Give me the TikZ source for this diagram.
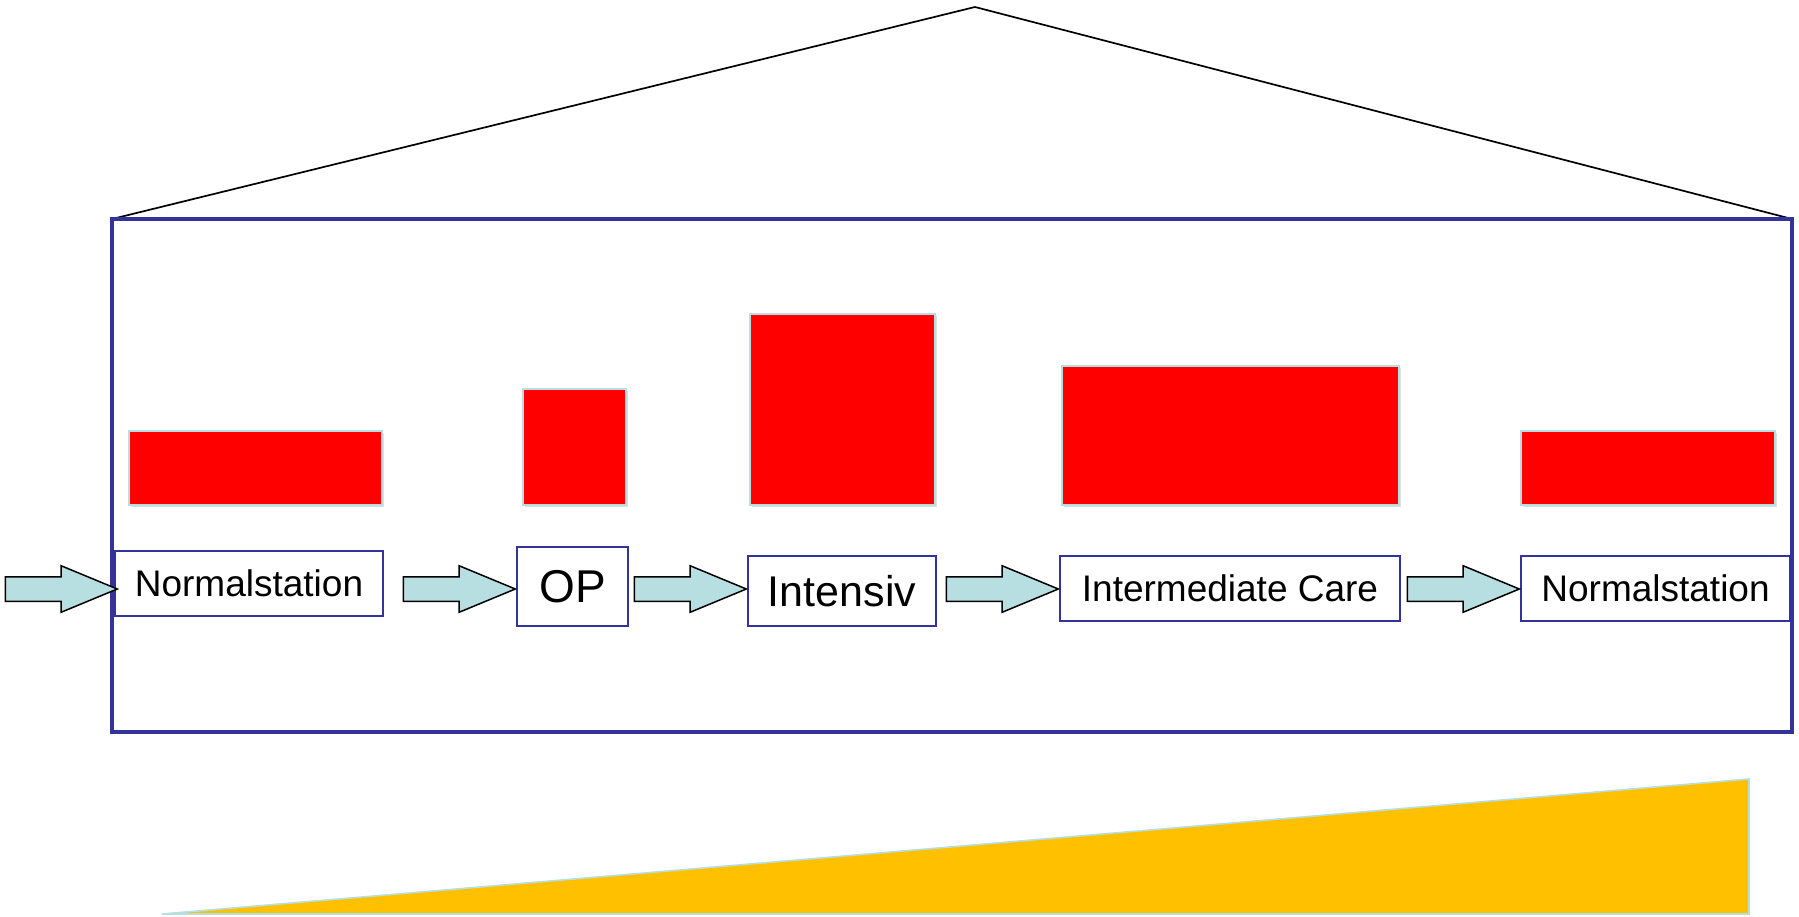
\documentclass[tikz,border=0pt]{standalone}
\usepackage{fontspec}
\setmainfont{Liberation Sans}
\usepackage{tikz}
\usetikzlibrary{positioning,shapes.arrows,shadows}

\definecolor{houseblue}{RGB}{51,51,153}
\definecolor{arrowcyan}{RGB}{183,222,224}
\definecolor{wedgeyellow}{RGB}{255,192,0}

\tikzset{
	station/.style={draw=houseblue, line width=0.75pt, fill=white, inner sep=0pt, font=\fontsize{18.5}{20}\selectfont},
	flowarrow/.style={single arrow, draw=black, fill=arrowcyan, line width=0.75pt, inner xsep=0pt, inner ysep=5.75pt,
		minimum height=56pt, single arrow head extend=5.5pt, single arrow tip angle=45, single arrow head indent=0pt, anchor=tip},
	load/.style={fill=red, draw=arrowcyan, line width=0.6pt, drop shadow={opacity=0.25, shadow xshift=1pt, shadow yshift=-1pt}}
}

\begin{document}
\begin{tikzpicture}[x=0.5pt, y=-0.5pt]
			\useasboundingbox (0,0) rectangle (1799,916);
			
			% roof and house
			\draw[line width=0.85pt, line join=miter] (112,219) -- (975,7) -- (1792,219);
			\draw[houseblue, line width=2pt] (112,219) rectangle (1792,732);
			
			% bars
			\draw[load] (129,431) rectangle (382,505);
			\draw[load] (523,389) rectangle (626,505);
			\draw[load] (750,314) rectangle (935,505);
			\draw[load] (1062,366) rectangle (1399,505);
			\draw[load] (1521,431) rectangle (1775,505);
			
			% stations
			\coordinate (flow) at (0,589);
			\node[station, minimum width=134pt, minimum height=32.5pt] (normal1) at (249,583.5) {Normalstation};
			\node[station, minimum width=55.5pt, minimum height=39.5pt, font=\fontsize{23}{25}\selectfont] (op) at (572.5,586.5) {OP};
			\node[station, minimum width=94pt, minimum height=35pt, font=\fontsize{21.5}{23}\selectfont] (intensiv) at (842,591) {Intensiv};
			\node[station, minimum width=170pt, minimum height=32.5pt] (imc) at (1230,588.5) {Intermediate Care};
			\node[station, minimum width=134.5pt, minimum height=32.5pt] (normal2) at (1655.5,588.5) {Normalstation};
			
			% arrows
			\node[flowarrow] (in) at ([xshift=2.5pt]normal1.west |- flow) {};
			\node[flowarrow] (toop) at ([xshift=0.5pt]op.west |- flow) {};
			\node[flowarrow] (toint) at ([xshift=0.5pt]intensiv.west |- flow) {};
			\node[flowarrow] (toimc) at ([xshift=0.5pt]imc.west |- flow) {};
			\node[flowarrow] (tonormal) at ([xshift=0.5pt]normal2.west |- flow) {};
			
			% wedge
			\draw[fill=wedgeyellow, draw=arrowcyan, line width=0.8pt] (162,914) -- (1749,779) -- (1749,914) -- cycle;
			
\end{tikzpicture}
\end{document}
